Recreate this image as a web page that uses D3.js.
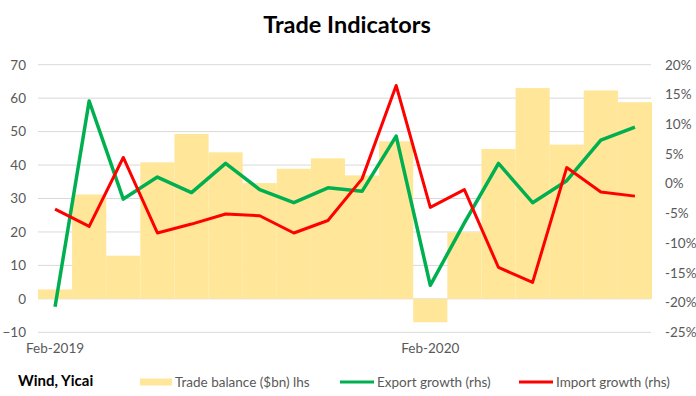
<!DOCTYPE html>
<html>
<head>
<meta charset="utf-8">
<script src="https://cdn.jsdelivr.net/npm/d3@7"></script>
<style>
	body { margin: 0; background: #fff; }
	text { font-family: Lato, "Open Sans", sans-serif; }
</style>
</head>
<body>
<svg id="chart" width="696" height="396"></svg>
<script>
// months Feb-2019 .. Aug-2020 (Jan-Feb 2020 shown as one point)
let months = ['Feb-2019', 'Mar-2019', 'Apr-2019', 'May-2019', 'Jun-2019', 'Jul-2019',
	'Aug-2019', 'Sep-2019', 'Oct-2019', 'Nov-2019', 'Dec-2019', 'Feb-2020',
	'Mar-2020', 'Apr-2020', 'May-2020', 'Jun-2020', 'Jul-2020', 'Aug-2020'];
let tradeBalance = [2.8, 31.2, 12.9, 40.8, 49.3, 43.8, 34.6, 38.9, 42.0, 36.9, 47.1, -7.0,
	19.9, 44.8, 63.0, 46.1, 62.3, 58.8];
let exportGrowth = [-20.7, 13.9, -2.6, 1.1, -1.5, 3.4, -1.0, -3.2, -0.7, -1.3, 8.0, -17.1,
	-6.6, 3.4, -3.2, 0.5, 7.3, 9.5];
let importGrowth = [-4.3, -7.2, 4.4, -8.3, -6.8, -5.1, -5.4, -8.3, -6.2, 0.8, 16.5, -4.0,
	-1.0, -14.1, -16.6, 2.7, -1.4, -2.1];
let xLabels = ['Feb-2019', 'Feb-2020'];
let leftTicks = [-10, 0, 10, 20, 30, 40, 50, 60, 70];
let rightTicks = [-25, -20, -15, -10, -5, 0, 5, 10, 15, 20];

let svg = d3.select('#chart');
let plotTop = 64.7, plotBottom = 332.3, plotLeft = 38, plotRight = 652;

let x = d3.scaleBand()
	.domain(months)
	.range([plotLeft, plotRight])
	.padding(0);
let yL = d3.scaleLinear().domain([-10, 70]).range([plotBottom, plotTop]);
let yR = d3.scaleLinear().domain([-25, 20]).range([plotBottom, plotTop]);

// title
svg.append('text')
	.attr('x', 347).attr('y', 33)
	.attr('text-anchor', 'middle')
	.attr('font-size', 23.5).attr('font-weight', 'bold')
	.attr('fill', '#000')
	.text('Trade Indicators');

// gridlines
svg.append('g')
	.selectAll('line')
	.data(leftTicks)
	.join('line')
	.attr('x1', plotLeft).attr('x2', plotRight - 1)
	.attr('y1', d => yL(d)).attr('y2', d => yL(d))
	.attr('stroke', '#d9d9d9').attr('stroke-width', 1);

// bars (stepped, no gaps)
svg.append('g')
	.selectAll('rect')
	.data(tradeBalance)
	.join('rect')
	.attr('x', (d, i) => x(months[i]))
	.attr('width', x.bandwidth())
	.attr('y', d => yL(Math.max(0, d)))
	.attr('height', d => Math.abs(yL(d) - yL(0)))
	.attr('fill', '#ffe699');

// lines
let line = d3.line()
	.x((d, i) => x(months[i]) + x.bandwidth() / 2)
	.y(d => yR(d));

svg.append('path')
	.datum(exportGrowth)
	.attr('d', line)
	.attr('fill', 'none')
	.attr('stroke', '#00b050')
	.attr('stroke-width', 3.5)
	.attr('stroke-linejoin', 'round');

svg.append('path')
	.datum(importGrowth)
	.attr('d', line)
	.attr('fill', 'none')
	.attr('stroke', '#ff0000')
	.attr('stroke-width', 3)
	.attr('stroke-linejoin', 'round');

// left axis
let axisL = svg.append('g')
	.attr('transform', 'translate(' + (plotLeft - 12) + ',0)')
	.call(d3.axisLeft(yL).tickValues(leftTicks).tickSize(0).tickPadding(0));
axisL.select('.domain').remove();
axisL.selectAll('text')
	.attr('font-size', 13.5).attr('fill', '#595959')
	.attr('font-family', 'Lato, "Open Sans", sans-serif');

// right axis
let axisR = svg.append('g')
	.attr('transform', 'translate(' + (plotRight + 13) + ',0)')
	.call(d3.axisRight(yR).tickValues(rightTicks).tickSize(0).tickPadding(0)
		.tickFormat(d => d + '%'));
axisR.select('.domain').remove();
axisR.selectAll('text')
	.attr('font-size', 13.5).attr('fill', '#595959')
	.attr('font-family', 'Lato, "Open Sans", sans-serif');

// x labels
let axisX = svg.append('g')
	.attr('transform', 'translate(0,' + (plotBottom + 11) + ')')
	.call(d3.axisBottom(x).tickValues(xLabels).tickSize(0).tickPadding(0));
axisX.select('.domain').remove();
axisX.selectAll('text')
	.attr('font-size', 13.5).attr('fill', '#595959')
	.attr('font-family', 'Lato, "Open Sans", sans-serif');

// source + legend
svg.append('text')
	.attr('x', 18).attr('y', 386)
	.attr('font-size', 15).attr('font-weight', 'bold')
	.attr('fill', '#000')
	.text('Wind, Yicai');

let legend = [
	{ label: 'Trade balance ($bn) lhs', color: '#ffe699', kind: 'bar', x: 140, w: 32 },
	{ label: 'Export growth (rhs)', color: '#00b050', kind: 'line', x: 340, w: 34 },
	{ label: 'Import growth (rhs)', color: '#ff0000', kind: 'line', x: 519, w: 34 }
];
let lg = svg.append('g')
	.selectAll('g')
	.data(legend)
	.join('g')
	.attr('transform', d => 'translate(' + d.x + ',382)');
lg.append('rect')
	.attr('x', 0)
	.attr('y', d => d.kind === 'bar' ? -3.5 : -1.5)
	.attr('width', d => d.w)
	.attr('height', d => d.kind === 'bar' ? 7 : 3)
	.attr('fill', d => d.color);
lg.append('text')
	.attr('x', d => d.w + 3)
	.attr('y', 5)
	.attr('font-size', 13.5)
	.attr('fill', '#595959')
	.text(d => d.label);
</script>
</body>
</html>
